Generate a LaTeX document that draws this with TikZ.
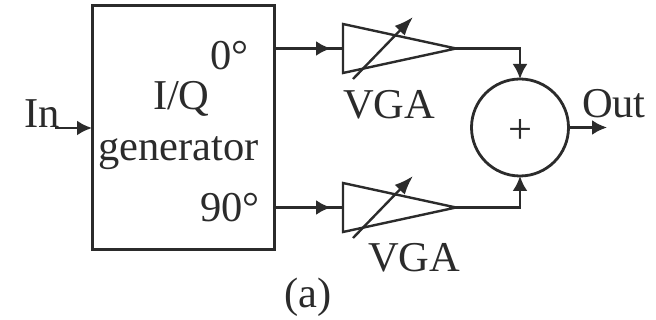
\documentclass[tikz,border=0pt]{standalone}
\usepackage{fontspec}
\setmainfont{Liberation Serif}
\usetikzlibrary{arrows.meta,shapes.geometric}
\definecolor{ink}{HTML}{2B2B2B}
\tikzset{
  px/.style={x=1pt,y=-1pt},
  wire/.style={draw=ink,line width=2.6pt},
  arrowwire/.style={wire,-{Latex[length=15pt,width=15pt]}},
  tune/.style={draw=ink,line width=2.4pt,-{Latex[length=19pt,width=14pt]}},
  block/.style={draw=ink,line width=3pt,rectangle,minimum width=182pt,minimum height=244pt,inner sep=0pt,outer sep=0pt},
  vga/.style={draw=ink,line width=2.4pt,isosceles triangle,isosceles triangle stretches,minimum width=49pt,minimum height=113pt,inner sep=0pt,outer sep=0pt,anchor=apex},
  summer/.style={draw=ink,line width=2.8pt,circle,minimum size=97pt,inner sep=0pt,outer sep=0pt},
  lab/.style={text=ink,font=\fontsize{42.5}{42.5}\selectfont,inner sep=0pt,outer sep=0pt,anchor=base west}
}
\begin{document}
\begin{tikzpicture}[px]
\useasboundingbox[fill=white] (0,0) rectangle (656,320);
\node[block] (box) at (183,128) {};
\node[vga] (t1) at (456,48.5) {};
\node[vga] (t2) at (456,207.5) {};
\node[summer] (sum) at (520,127.5) {};
\node[lab,anchor=center] (plus) at (520,131.5) {+};
\node[lab] (inl) at (24,128) {In};
\node[lab] (outl) at (582,118) {Out};
\node[lab] (iq) at (153,110) {I/Q};
\node[lab] (gen) at (98,161) {generator};
\node[lab] (deg0) at (210,70) {0°};
\node[lab] (deg90) at (200,222) {90°};
\node[lab] (v1) at (343,119) {VGA};
\node[lab] (v2) at (368,272) {VGA};
\node[lab] (cap) at (284,308) {(a)};
\coordinate (instart) at (55,128);
\coordinate (outend) at (607,127.5);
\coordinate (a1) at (box.east |- t1.apex);
\coordinate (a2) at (box.east |- t2.apex);
\coordinate (tip1) at (331,48.5);
\coordinate (tip2) at (331,207.5);
\coordinate (k1a) at (353,79);
\coordinate (k1b) at (413,17);
\coordinate (k2a) at (353,238);
\coordinate (k2b) at (413,176);
\draw[arrowwire] (instart) -- (box.west |- instart);
\draw[wire] (a1) -- (t1.lower side);
\draw[wire] (a2) -- (t2.lower side);
\draw[arrowwire] (a1) -- (tip1);
\draw[arrowwire] (a2) -- (tip2);
\draw[arrowwire] (t1.apex) -| (sum.north);
\draw[arrowwire] (t2.apex) -| (sum.south);
\draw[arrowwire] (sum.east) -- (outend);
\draw[tune] (k1a) -- (k1b);
\draw[tune] (k2a) -- (k2b);
\end{tikzpicture}
\end{document}
